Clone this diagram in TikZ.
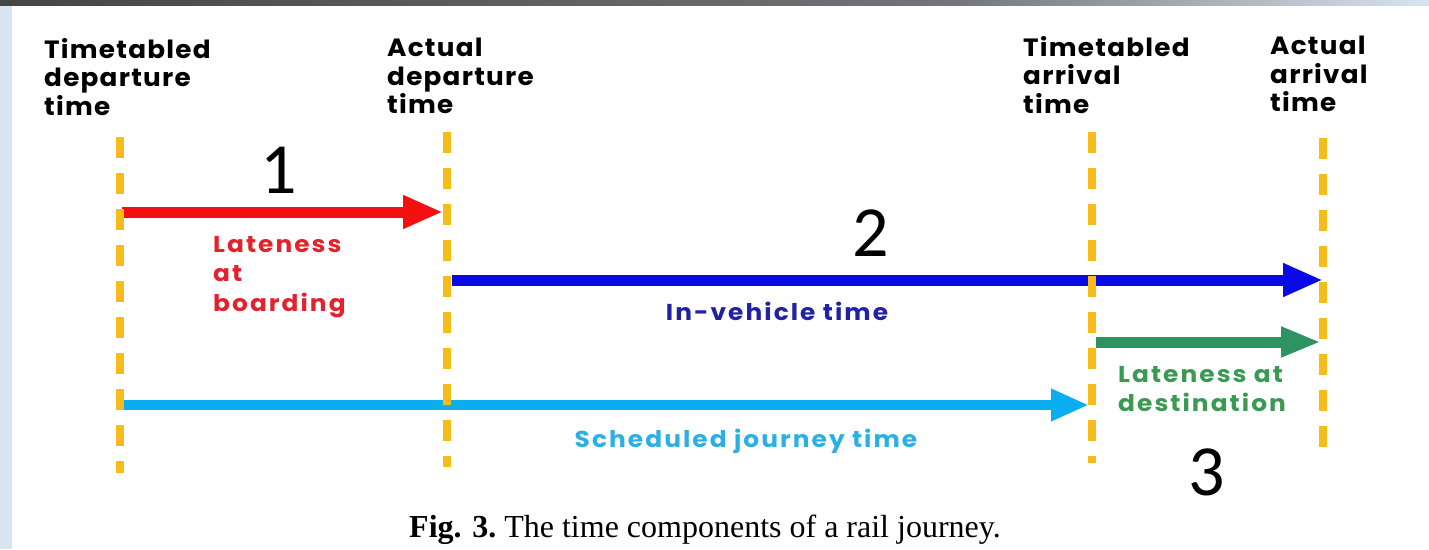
\documentclass[tikz,border=0pt]{standalone}
\usepackage{fontspec}
\setmainfont{Poppins}
\newfontfamily\headfont[FakeStretch=1.05, LetterSpace=5]{Poppins}
\newfontfamily\spanfont[FakeStretch=1.08, LetterSpace=9]{Poppins}
\newfontfamily\numfont{Carlito}
\newfontfamily\capfont{Liberation Serif}
\usetikzlibrary{arrows.meta}

\definecolor{marker}{HTML}{F8BC1A}
\definecolor{redarrow}{HTML}{F41010}
\definecolor{bluearrow}{HTML}{0A0AE6}
\definecolor{greenarrow}{HTML}{2E9262}
\definecolor{cyanarrow}{HTML}{08AEF0}
\definecolor{redtext}{HTML}{E3222E}
\definecolor{bluetext}{HTML}{2121A6}
\definecolor{greentext}{HTML}{3A9A52}
\definecolor{cyantext}{HTML}{2AB0E6}
\definecolor{sidebg}{HTML}{D8E4F0}
\definecolor{topdark}{HTML}{454545}

\tikzset{
  markerline/.style={draw=marker, line width=8pt, dash pattern=on 21pt off 15pt},
  timearrow/.style={line width=11pt, -{Triangle[length=40pt,width=31pt]}},
  header/.style={anchor=north west, inner sep=0pt, align=left,
    font=\headfont\fontsize{25}{28.5}\selectfont\bfseries},
  spanlabel/.style={inner sep=0pt, align=left,
    font=\spanfont\fontsize{23}{29.5}\selectfont\bfseries},
  stepnum/.style={anchor=base, inner sep=0pt, font=\numfont\fontsize{72}{72}\selectfont}
}

\begin{document}
\begin{tikzpicture}[x=1pt,y=-1pt]
\useasboundingbox (0,0) rectangle (1429,549);
\fill[white] (0,0) rectangle (1429,549);

% frame of the page: left strip and top band
\fill[sidebg] (0,0) rectangle (12,549);
\shade[left color=topdark, right color=topdark!70!sidebg] (0,0) rectangle (950,5);
\shade[left color=topdark!70!sidebg, right color=sidebg] (950,0) rectangle (1429,5);

% time instants
\coordinate (tdA) at (120,137);  \coordinate (tdB) at (120,473);
\coordinate (adA) at (447,132);  \coordinate (adB) at (447,467);
\coordinate (taA) at (1092,132); \coordinate (taB) at (1092,463);
\coordinate (aaA) at (1323,138); \coordinate (aaB) at (1323,448);

% arrow end points
\coordinate (r0) at (122,212);  \coordinate (r1) at (443,212);
\coordinate (b0) at (452,280);  \coordinate (b1) at (1323,280);
\coordinate (g0) at (1096,342); \coordinate (g1) at (1321,342);
\coordinate (c0) at (124,405);  \coordinate (c1) at (1089,405);

% time spans
\draw[timearrow, redarrow] (r0) -- (r1);
\draw[timearrow, bluearrow] (b0) -- (b1);
\draw[timearrow, greenarrow, -{Triangle[length=40pt,width=28pt]}] (g0) -- (g1);
\draw[timearrow, cyanarrow, line width=10pt, -{Triangle[length=38pt,width=30pt]}] (c0) -- (c1);

% dashed markers
\draw[markerline] (tdA) -- (tdB);
\draw[markerline] (adA) -- (adB);
\draw[markerline] (taA) -- (taB);
\draw[markerline] (aaA) -- (aaB);

% instant headings
\node[header] (h1) at (44,38) {Timetabled\\departure\\time};
\node[header] (h2) at (387,38) {Actual\\departure\\time};
\node[header] (h3) at (1023,36) {Timetabled\\arrival\\time};
\node[header] (h4) at (1270,36) {Actual\\arrival\\time};

% span labels
\node[spanlabel, anchor=north west, text=redtext] (l1) at (213,236) {Lateness\\at\\boarding};
\node[spanlabel, anchor=base, text=bluetext] (l2) at (777,320) {In-vehicle time};
\node[spanlabel, anchor=north west, text=greentext] (l3) at (1118,366) {Lateness at\\destination};
\node[spanlabel, anchor=base, text=cyantext] (l4) at (746,447) {Scheduled journey time};

% component numbers
\node[stepnum] (n1) at (279,193) {1};
\node[stepnum] (n2) at (871,256) {2};
\node[stepnum] (n3) at (1207,495) {3};

% caption
\node[anchor=base, inner sep=0pt, font=\capfont\fontsize{32}{32}\selectfont] (cap) at (705,537)
  {\textbf{Fig. 3.}\ The time components of a rail journey.};
\end{tikzpicture}
\end{document}
